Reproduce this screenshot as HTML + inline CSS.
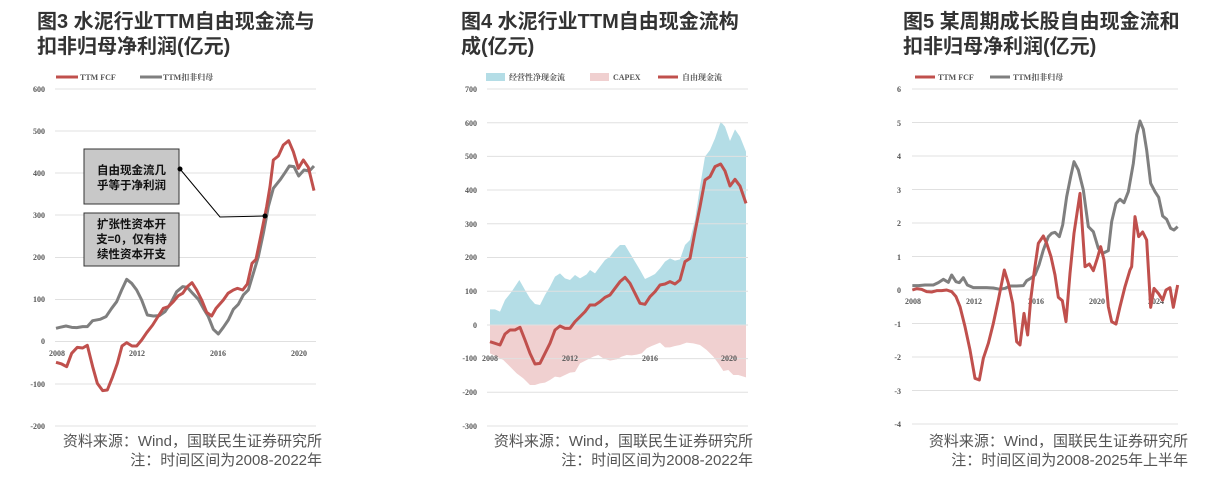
<!DOCTYPE html>
<html><head><meta charset="utf-8"><style>
body{margin:0;background:#fff;}
svg{display:block;}
.t{font-family:"Liberation Sans","Noto Sans CJK SC",sans-serif;font-weight:bold;font-size:20px;fill:#333;}
.f{font-family:"Liberation Sans","Noto Sans CJK SC",sans-serif;font-size:15px;fill:#555;}
.k{font-family:"Liberation Serif","Noto Serif CJK SC",serif;font-weight:bold;font-size:8px;fill:#555;}
.l{font-family:"Liberation Serif","Noto Serif CJK SC",serif;font-weight:bold;font-size:8px;fill:#555;}
.g{stroke:#e0e0e0;stroke-width:1;}
.b{font-family:"Liberation Sans","Noto Sans CJK SC",sans-serif;font-weight:bold;font-size:11.5px;fill:#111;}
</style></head><body>
<svg width="1225" height="492" viewBox="0 0 1225 492" xmlns="http://www.w3.org/2000/svg">
<text class="t" x="37" y="28">图3 水泥行业TTM自由现金流与</text>
<text class="t" x="37" y="53">扣非归母净利润(亿元)</text>
<text class="t" x="461" y="28">图4 水泥行业TTM自由现金流构</text>
<text class="t" x="461" y="53">成(亿元)</text>
<text class="t" x="903" y="28">图5 某周期成长股自由现金流和</text>
<text class="t" x="903" y="53">扣非归母净利润(亿元)</text>
<text class="f" x="322" y="446" text-anchor="end">资料来源：Wind，国联民生证券研究所</text>
<text class="f" x="322" y="465" text-anchor="end">注：时间区间为2008-2022年</text>
<text class="f" x="753" y="446" text-anchor="end">资料来源：Wind，国联民生证券研究所</text>
<text class="f" x="753" y="465" text-anchor="end">注：时间区间为2008-2022年</text>
<text class="f" x="1188" y="446" text-anchor="end">资料来源：Wind，国联民生证券研究所</text>
<text class="f" x="1188" y="465" text-anchor="end">注：时间区间为2008-2025年上半年</text>

<g>
<line class="g" x1="55" x2="316" y1="89" y2="89"/><line class="g" x1="55" x2="316" y1="131" y2="131"/><line class="g" x1="55" x2="316" y1="173" y2="173"/><line class="g" x1="55" x2="316" y1="215" y2="215"/><line class="g" x1="55" x2="316" y1="257.5" y2="257.5"/><line class="g" x1="55" x2="316" y1="299.5" y2="299.5"/><line class="g" x1="55" x2="316" y1="341.5" y2="341.5"/><line class="g" x1="55" x2="316" y1="384" y2="384"/><line class="g" x1="55" x2="316" y1="426" y2="426"/>
<g class="k" text-anchor="end"><text x="45" y="92">600</text><text x="45" y="134">500</text><text x="45" y="176">400</text><text x="45" y="218">300</text><text x="45" y="260">200</text><text x="45" y="302">100</text><text x="45" y="344">0</text><text x="45" y="387">-100</text><text x="45" y="429">-200</text></g>
<g class="k" text-anchor="middle"><text x="57" y="356">2008</text><text x="137" y="356">2012</text><text x="218" y="356">2016</text><text x="299" y="356">2020</text></g>
<line x1="56" x2="78" y1="77" y2="77" stroke="#c0504d" stroke-width="3"/><text class="l" x="80" y="80">TTM FCF</text>
<line x1="140" x2="162" y1="77" y2="77" stroke="#7f7f7f" stroke-width="3"/><text class="l" x="163" y="80">TTM扣非归母</text>
<g transform="translate(0,60) scale(0.33333)" fill="none" stroke-width="9" stroke-linejoin="round">
<polyline stroke="#7f7f7f" points="168,805 180,802 198,798 215,802 230,803 248,800 262,800 278,782 300,778 318,770 335,745 350,725 365,690 380,658 395,670 410,690 425,720 442,765 460,768 478,767 495,755 512,730 530,695 548,680 562,682 578,700 595,718 610,745 625,770 640,808 655,822 670,802 685,780 700,748 715,733 730,705 745,690 760,640 775,590 790,520 805,440 820,385 840,360 855,338 868,318 882,320 896,348 912,330 928,333 942,318"/>
<polyline stroke="#c0504d" points="168,907 185,912 200,920 215,880 232,862 248,864 262,856 278,920 292,970 308,992 322,990 338,950 352,910 366,858 380,848 396,858 410,858 425,840 440,818 458,795 475,768 490,745 505,740 520,725 535,707 548,700 562,680 576,668 590,690 605,720 620,757 635,768 648,745 670,720 684,700 700,690 712,685 728,690 742,672 756,610 768,598 784,520 800,440 810,380 820,300 835,288 850,255 866,242 880,275 895,325 910,300 925,322 942,392"/>
</g>
<rect x="84" y="149" width="95" height="55" fill="#c8c8c8" stroke="#333" stroke-width="1"/>
<text class="b" x="131.5" y="174" text-anchor="middle">自由现金流几</text><text class="b" x="131.5" y="189" text-anchor="middle">乎等于净利润</text>
<rect x="84" y="213" width="95" height="53" fill="#c8c8c8" stroke="#333" stroke-width="1"/>
<text class="b" x="131.5" y="228" text-anchor="middle">扩张性资本开</text><text class="b" x="131.5" y="243" text-anchor="middle">支=0，仅有持</text><text class="b" x="131.5" y="258" text-anchor="middle">续性资本开支</text>
<polyline points="180,169 220,217 265,216" fill="none" stroke="#000" stroke-width="1"/>
<circle cx="180" cy="169" r="2.5"/><circle cx="265" cy="216" r="2.5"/>
</g>

<g>
<g transform="translate(440,60) scale(0.33333)" stroke="none">
<polygon fill="#b4dde6" points="150,795 150,748 165,748 180,755 195,720 215,695 238,660 255,690 270,715 285,732 300,735 315,705 330,680 345,650 360,640 375,655 390,660 405,645 420,655 440,643 450,630 465,640 480,620 495,600 510,590 525,570 540,555 555,555 570,580 585,605 600,630 615,657 630,650 645,642 660,625 675,605 690,595 705,602 720,598 735,555 750,540 765,480 780,380 795,290 810,270 825,235 842,185 855,200 870,243 885,208 900,230 918,275 918,795"/>
<polygon fill="#f0d0d0" points="150,795 150,880 170,890 190,900 210,920 230,940 250,955 270,975 285,975 300,970 315,968 330,960 345,950 360,952 375,945 390,938 405,936 420,910 440,900 460,890 475,885 490,895 510,902 530,898 545,890 560,885 575,886 590,884 605,880 620,865 635,858 650,852 660,848 675,862 690,862 705,858 720,855 740,848 760,850 780,855 800,870 820,890 835,910 850,933 865,930 880,945 895,945 918,952 918,795"/>
</g>
<line class="g" x1="487" x2="748" y1="89" y2="89"/><line class="g" x1="487" x2="748" y1="122.7" y2="122.7"/><line class="g" x1="487" x2="748" y1="156.4" y2="156.4"/><line class="g" x1="487" x2="748" y1="190" y2="190"/><line class="g" x1="487" x2="748" y1="223.8" y2="223.8"/><line class="g" x1="487" x2="748" y1="257.5" y2="257.5"/><line class="g" x1="487" x2="748" y1="291.2" y2="291.2"/><line class="g" x1="487" x2="748" y1="325" y2="325"/><line class="g" x1="487" x2="748" y1="358.6" y2="358.6"/><line class="g" x1="487" x2="748" y1="392.3" y2="392.3"/><line class="g" x1="487" x2="748" y1="426" y2="426"/>
<g class="k" text-anchor="end"><text x="477" y="92">700</text><text x="477" y="126">600</text><text x="477" y="159">500</text><text x="477" y="193">400</text><text x="477" y="227">300</text><text x="477" y="260">200</text><text x="477" y="294">100</text><text x="477" y="328">0</text><text x="477" y="361">-100</text><text x="477" y="395">-200</text><text x="477" y="429">-300</text></g>
<g class="k" text-anchor="middle"><text x="490" y="361">2008</text><text x="570" y="361">2012</text><text x="650" y="361">2016</text><text x="729" y="361">2020</text></g>
<g transform="translate(440,60) scale(0.33333)" fill="none" stroke-width="9" stroke-linejoin="round">
<polyline stroke="#c0504d" points="150,845 165,850 180,855 195,822 210,810 225,810 240,802 255,840 270,880 285,912 300,910 315,880 330,850 345,810 360,798 375,805 390,805 405,785 420,770 435,755 450,735 465,735 480,725 495,712 510,705 525,685 540,665 555,652 570,670 585,700 600,730 615,733 630,710 645,695 660,675 675,672 690,665 705,672 720,660 735,605 750,595 765,515 780,440 795,360 810,350 825,320 842,312 855,333 870,378 885,358 900,378 918,430"/>
</g>
<rect x="486" y="73" width="19" height="8" fill="#b4dde6"/><text class="l" x="509" y="80">经营性净现金流</text>
<rect x="590" y="73" width="19" height="8" fill="#f0d0d0"/><text class="l" x="613" y="80">CAPEX</text>
<line x1="658" x2="678" y1="77" y2="77" stroke="#c0504d" stroke-width="3"/><text class="l" x="682" y="80">自由现金流</text>
</g>

<g>
<line class="g" x1="912" x2="1178" y1="89" y2="89"/><line class="g" x1="912" x2="1178" y1="122.5" y2="122.5"/><line class="g" x1="912" x2="1178" y1="156" y2="156"/><line class="g" x1="912" x2="1178" y1="189.5" y2="189.5"/><line class="g" x1="912" x2="1178" y1="223" y2="223"/><line class="g" x1="912" x2="1178" y1="256.5" y2="256.5"/><line class="g" x1="912" x2="1178" y1="290" y2="290"/><line class="g" x1="912" x2="1178" y1="323.5" y2="323.5"/><line class="g" x1="912" x2="1178" y1="357" y2="357"/><line class="g" x1="912" x2="1178" y1="390.5" y2="390.5"/><line class="g" x1="912" x2="1178" y1="424" y2="424"/>
<g class="k" text-anchor="end"><text x="901" y="92">6</text><text x="901" y="126">5</text><text x="901" y="159">4</text><text x="901" y="193">3</text><text x="901" y="226">2</text><text x="901" y="260">1</text><text x="901" y="293">0</text><text x="901" y="327">-1</text><text x="901" y="360">-2</text><text x="901" y="394">-3</text><text x="901" y="427">-4</text></g>
<g class="k" text-anchor="middle"><text x="913" y="304">2008</text><text x="974" y="304">2012</text><text x="1036" y="304">2016</text><text x="1097" y="304">2020</text><text x="1156" y="304">2024</text></g>
<line x1="915" x2="935" y1="77" y2="77" stroke="#c0504d" stroke-width="3"/><text class="l" x="938" y="80">TTM FCF</text>
<line x1="990" x2="1010" y1="77" y2="77" stroke="#7f7f7f" stroke-width="3"/><text class="l" x="1013" y="80">TTM扣非归母</text>
<g transform="translate(880,60) scale(0.33333)" fill="none" stroke-width="9" stroke-linejoin="round">
<polyline stroke="#7f7f7f" points="97,677 115,677 135,675 160,675 175,668 190,658 205,667 215,645 228,665 238,668 250,653 262,675 280,683 300,683 320,683 340,684 360,688 375,685 390,678 410,678 430,677 440,662 452,655 465,645 477,615 490,570 505,530 515,520 525,517 538,530 548,495 560,410 572,350 582,305 595,330 610,390 625,500 640,515 655,565 668,580 685,572 695,485 708,430 720,418 732,428 745,395 760,310 770,225 780,183 790,208 800,270 812,370 825,395 836,412 848,468 860,478 872,505 882,510 893,500"/>
<polyline stroke="#c0504d" points="97,690 110,686 125,688 140,695 155,696 170,692 185,692 200,690 215,695 228,710 240,740 255,800 270,870 285,955 298,960 310,895 325,850 340,790 355,720 373,630 385,670 398,730 410,845 420,855 432,760 443,825 452,720 462,640 475,550 490,528 500,550 513,590 525,645 535,712 547,722 558,785 570,640 582,520 600,400 615,620 628,612 640,632 652,595 662,560 672,600 685,740 695,785 708,792 720,740 735,680 750,630 755,620 765,470 776,530 788,516 800,540 812,742 822,685 835,700 848,720 858,690 870,683 880,742 893,675"/>
</g>
</g>
</svg>
</body></html>
